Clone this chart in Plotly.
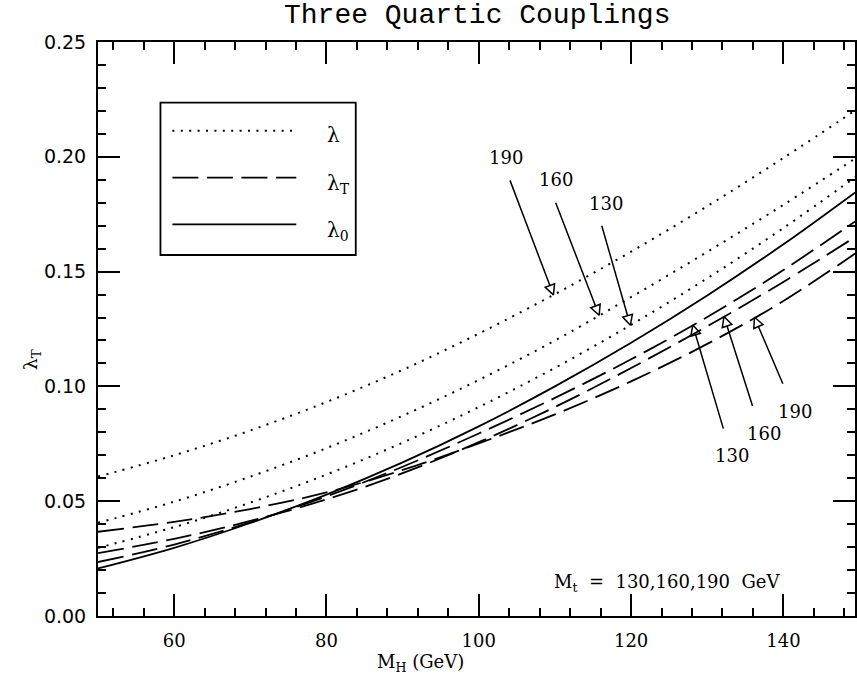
import numpy as np
import plotly.graph_objects as go

# ---------------- data ----------------
mh = [50, 60, 70, 80, 90, 100, 110, 120, 130, 140, 150]

lam_190 = [0.0607, 0.0700, 0.0808, 0.0932, 0.1072, 0.1230, 0.1402, 0.1587, 0.1785, 0.1995, 0.2215]
lam_160 = [0.0406, 0.0498, 0.0607, 0.0731, 0.0872, 0.1028, 0.1200, 0.1389, 0.1586, 0.1791, 0.2005]
lam_130 = [0.0297, 0.0387, 0.0494, 0.0616, 0.0755, 0.0910, 0.1081, 0.1268, 0.1471, 0.1690, 0.1925]

lamT_190 = [0.0367, 0.0410, 0.0466, 0.0538, 0.0636, 0.0752, 0.0878, 0.1022, 0.1185, 0.1372, 0.1592]
lamT_160 = [0.0274, 0.0336, 0.0414, 0.0508, 0.0622, 0.0757, 0.0910, 0.1080, 0.1262, 0.1455, 0.1663]
lamT_130 = [0.0235, 0.0311, 0.0408, 0.0521, 0.0650, 0.0795, 0.0950, 0.1118, 0.1302, 0.1507, 0.1732]

lam0 = [0.0207, 0.0297, 0.0405, 0.0529, 0.0669, 0.0826, 0.1000, 0.1190, 0.1396, 0.1619, 0.1859]

x_ticks = [60, 80, 100, 120, 140]
y_ticks = [0.00, 0.05, 0.10, 0.15, 0.20, 0.25]

# arrows: (label, series, tip MH, pixel offset of tail, label position)
upper_arrows = [
    ("190", lam_190, 109.8, -44, -116, 103.6, 0.1999),
    ("160", lam_160, 115.8, -44, -114, 110.15, 0.1899),
    ("130", lam_130, 119.9, -29, -101, 116.7, 0.1797),
]
lower_arrows = [
    ("130", lamT_130, 128.1, 31, 105, 133.3, 0.0698),
    ("160", lamT_160, 132.2, 29, 91, 137.4, 0.0795),
    ("190", lamT_190, 136.2, 29, 68, 141.5, 0.0892),
]

# ---------------- styles ----------------
DOT = "2px,6.4px"
DASH = "26px,8.5px"
LW = 1.8
SERIF = "DejaVu Serif"

fig = go.Figure()

for s in (lam_190, lam_160, lam_130):
    fig.add_trace(go.Scatter(x=mh, y=s, mode="lines", line=dict(color="black", width=2, dash=DOT, shape="spline"),
                             showlegend=False, hoverinfo="skip"))
for s in (lamT_190, lamT_160, lamT_130):
    fig.add_trace(go.Scatter(x=mh, y=s, mode="lines", line=dict(color="black", width=LW, dash=DASH, shape="spline"),
                             showlegend=False, hoverinfo="skip"))
fig.add_trace(go.Scatter(x=mh, y=lam0, mode="lines", line=dict(color="black", width=LW, shape="spline"),
                         showlegend=False, hoverinfo="skip"))

annotations = []
HEAD = 10
for lab, ser, tx, ax, ay, lx, ly in upper_arrows + lower_arrows:
    ty = float(np.interp(tx, mh, ser))
    annotations.append(dict(x=tx, y=ty, ax=ax, ay=ay, text="", showarrow=True, arrowhead=0,
                            arrowwidth=1.5, arrowcolor="black", standoff=HEAD))
    ang = float(np.degrees(np.arctan2(-ax, ay)))
    fig.add_trace(go.Scatter(x=[tx], y=[ty], mode="markers",
                             marker=dict(symbol="arrow-up-open", size=HEAD, angle=ang, color="black",
                                         line=dict(color="black", width=1.5)),
                             showlegend=False, hoverinfo="skip", cliponaxis=False))
    annotations.append(dict(x=lx, y=ly, text=lab, showarrow=False,
                            font=dict(family=SERIF, size=18, color="black")))

# title and axis titles
annotations += [
    dict(x=0.5004, y=1.0453, xref="paper", yref="paper", text="Three Quartic Couplings", showarrow=False,
         font=dict(family="Liberation Mono", size=28, color="black"), yanchor="middle"),
    dict(x=0.4266, y=-0.082, xref="paper", yref="paper", text="M<sub>H</sub> (GeV)", showarrow=False,
         font=dict(family=SERIF, size=18, color="black"), yanchor="middle"),
    dict(x=-0.106, y=0.446, xref="paper", yref="paper", text="λ<sub>T</sub>", showarrow=False, textangle=-90,
         font=dict(family=SERIF, size=19, color="black")),
    dict(x=0.752, y=0.058, xref="paper", yref="paper", text="M<sub>t</sub>  =  130,160,190  GeV", showarrow=False,
         font=dict(family=SERIF, size=18, color="black"), xanchor="center", yanchor="middle"),
]

# legend box drawn by hand
shapes = [dict(type="rect", xref="paper", yref="paper", x0=0.0825, x1=0.3405, y0=0.6289, y1=0.8943,
               line=dict(color="black", width=1.8), fillcolor="rgba(0,0,0,0)")]
leg_items = [(0.8453, DOT, 2, "λ", 0.838), (0.7636, DASH, LW, "λ<sub>T</sub>", 0.752),
             (0.6824, "solid", LW, "λ<sub>0</sub>", 0.671)]
for ly, dash, w, lab, ty in leg_items:
    shapes.append(dict(type="line", xref="paper", yref="paper", x0=0.0983, x1=0.2619, y0=ly, y1=ly,
                       line=dict(color="black", width=w, dash=dash)))
    annotations.append(dict(x=0.300, y=ty, xref="paper", yref="paper", text=lab, showarrow=False,
                            xanchor="left", yanchor="middle", font=dict(family=SERIF, size=20, color="black")))

fig.update_layout(
    width=857, height=680,
    margin=dict(l=98, r=0, t=42, b=64),
    paper_bgcolor="white", plot_bgcolor="white",
    annotations=annotations, shapes=shapes,
    xaxis=dict(range=[50, 149.4], tickvals=x_ticks, ticktext=[str(v) for v in x_ticks],
               ticks="inside", ticklen=22, tickwidth=1.5, tickcolor="black",
               showline=True, linewidth=2, linecolor="black", mirror="ticks", showgrid=False, zeroline=False,
               minor=dict(dtick=4, tick0=0, ticks="inside", ticklen=8, tickwidth=1.5, tickcolor="black"),
               tickfont=dict(family=SERIF, size=18, color="black"), ticklabelstandoff=7),
    yaxis=dict(range=[0, 0.25], tickvals=y_ticks, ticktext=[f"{v:.2f}" for v in y_ticks],
               ticks="inside", ticklen=22, tickwidth=1.5, tickcolor="black",
               showline=True, linewidth=2, linecolor="black", mirror="ticks", showgrid=False, zeroline=False,
               minor=dict(dtick=0.01, tick0=0, ticks="inside", ticklen=8, tickwidth=1.5, tickcolor="black"),
               tickfont=dict(family="DejaVu Sans", size=19, color="black"), ticklabelstandoff=6),
)

fig.write_html("out.html")
